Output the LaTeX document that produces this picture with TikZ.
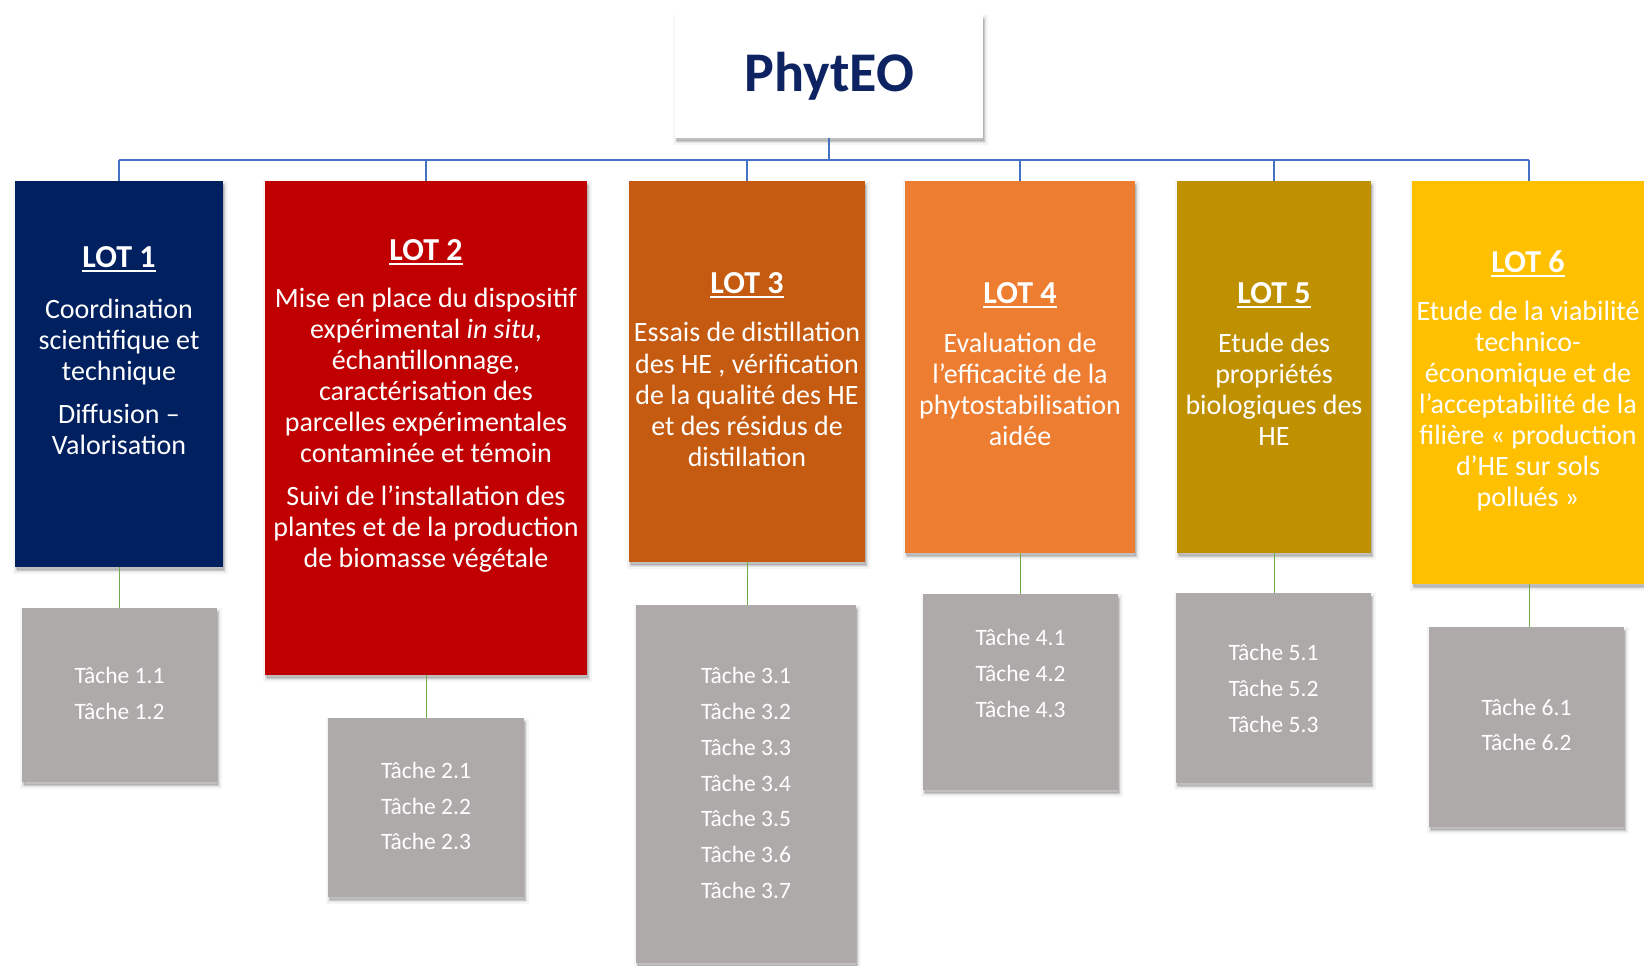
\documentclass[tikz,border=0pt]{standalone}
\usepackage{fontspec}
\setmainfont{Carlito}
\usetikzlibrary{shadows}
\definecolor{titleblue}{HTML}{0E2361}
\definecolor{lotA}{HTML}{002060}
\definecolor{lotB}{HTML}{C00000}
\definecolor{lotC}{HTML}{C55A11}
\definecolor{lotD}{HTML}{ED7D31}
\definecolor{lotE}{HTML}{BF9000}
\definecolor{lotF}{HTML}{FFC000}
\definecolor{taskgray}{HTML}{AEAAAA}
\definecolor{busblue}{HTML}{4472C4}
\definecolor{leafgreen}{HTML}{70AD47}
\newcommand{\lotul}[1]{\setbox0\hbox{#1}\rlap{\rule[-4.5pt]{\wd0}{2.2pt}}\box0}
\tikzset{
  boxshadow/.style={
    general shadow={fill=black, draw=black, line width=7pt, opacity=0.04, shadow xshift=1.5pt, shadow yshift=-3.5pt},
    general shadow={fill=black, draw=black, line width=3.5pt, opacity=0.07, shadow xshift=1.5pt, shadow yshift=-3.5pt},
    general shadow={fill=black, opacity=0.12, shadow xshift=1pt, shadow yshift=-3pt}},
  lotbox/.style={rectangle, inner sep=0, anchor=north west, boxshadow},
  taskbox/.style={rectangle, inner sep=0, anchor=north west, fill=taskgray, boxshadow},
  headtxt/.style={inner sep=0, text=white, font=\fontsize{32}{36}\selectfont\bfseries},
  bodytxt/.style={inner sep=0, text=white, align=center, font=\fontsize{28}{31.1}\selectfont},
  tasktxt/.style={inner sep=0, text=white, align=center, font=\fontsize{23.5}{35.7}\selectfont},
  busline/.style={draw=busblue, line width=1.6pt},
  leafline/.style={draw=leafgreen, line width=1.4pt},
}
\begin{document}
\begin{tikzpicture}[x=1pt,y=-1pt]
\useasboundingbox (0,0) rectangle (1644,966);
% root
\node[lotbox, fill=white, minimum width=308pt, minimum height=123pt] (phyteo) at (675,15) {};
\node[inner sep=0, text=titleblue, font=\fontsize{56}{60}\selectfont\bfseries] (phyteot) at (phyteo.center) {PhytEO};
% lots
\node[lotbox, fill=lotA, minimum width=208pt, minimum height=386pt] (lot1) at (15,181) {};
\node[lotbox, fill=lotB, minimum width=322pt, minimum height=494pt] (lot2) at (265,181) {};
\node[lotbox, fill=lotC, minimum width=236pt, minimum height=381pt] (lot3) at (629,181) {};
\node[lotbox, fill=lotD, minimum width=230pt, minimum height=372pt] (lot4) at (905,181) {};
\node[lotbox, fill=lotE, minimum width=194pt, minimum height=372pt] (lot5) at (1177,181) {};
\node[lotbox, fill=lotF, minimum width=234pt, minimum height=403pt] (lot6) at (1412,181) {};
% lot texts
\node[headtxt] (h1) at (119,259) {\lotul{LOT 1}};
\node[bodytxt] (b1) at (119,376.5) {Coordination\\scientifique et\\technique\\[11.7pt]Diffusion –\\Valorisation};
\node[headtxt] (h2) at (426,252) {\lotul{LOT 2}};
\node[bodytxt] (b2) at (426,430) {Mise en place du dispositif\\expérimental \textit{in situ},\\échantillonnage,\\caractérisation des\\parcelles expérimentales\\contaminée et témoin\\[11.7pt]Suivi de l’installation des\\plantes et de la production\\de biomasse végétale};
\node[headtxt] (h3) at (747,285) {\lotul{LOT 3}};
\node[bodytxt] (b3) at (747,394.5) {Essais de distillation\\des HE , vérification\\de la qualité des HE\\et des résidus de\\distillation};
\node[headtxt] (h4) at (1020,295) {\lotul{LOT 4}};
\node[bodytxt] (b4) at (1020,389.5) {Evaluation de\\l’efficacité de la\\phytostabilisation\\aidée};
\node[headtxt] (h5) at (1274,295) {\lotul{LOT 5}};
\node[bodytxt] (b5) at (1274,389.5) {Etude des\\propriétés\\biologiques des\\HE};
\node[headtxt] (h6) at (1528,264) {\lotul{LOT 6}};
\node[bodytxt] (b6) at (1528,406) {Etude de la viabilité\\technico-\\économique et de\\l’acceptabilité de la\\filière « production\\d’HE sur sols\\pollués »};
% tasks
\node[taskbox, minimum width=195pt, minimum height=174pt] (t1) at (22,608) {};
\node[taskbox, minimum width=196pt, minimum height=179pt] (t2) at (328,718) {};
\node[taskbox, minimum width=220pt, minimum height=358pt] (t3) at (636,605) {};
\node[taskbox, minimum width=195pt, minimum height=196pt] (t4) at (923,594) {};
\node[taskbox, minimum width=195pt, minimum height=190pt] (t5) at (1176,593) {};
\node[taskbox, minimum width=195pt, minimum height=200pt] (t6) at (1429,627) {};
\node[tasktxt] (k1) at (119.5,693.5) {Tâche 1.1\\Tâche 1.2};
\node[tasktxt] (k2) at (426,806) {Tâche 2.1\\Tâche 2.2\\Tâche 2.3};
\node[tasktxt] (k3) at (746,783) {Tâche 3.1\\Tâche 3.2\\Tâche 3.3\\Tâche 3.4\\Tâche 3.5\\Tâche 3.6\\Tâche 3.7};
\node[tasktxt] (k4) at (1020.5,673.5) {Tâche 4.1\\Tâche 4.2\\Tâche 4.3};
\node[tasktxt] (k5) at (1273.5,688.5) {Tâche 5.1\\Tâche 5.2\\Tâche 5.3};
\node[tasktxt] (k6) at (1526.5,725) {Tâche 6.1\\Tâche 6.2};
% connectors
\coordinate (busy) at (0,160);
\draw[busline] (phyteo.south) -- (phyteo.south |- busy);
\draw[busline] (lot1.north |- busy) -- (lot6.north |- busy);
\foreach \i in {1,...,6} {
  \draw[busline] (lot\i.north |- busy) -- (lot\i.north);
  \draw[leafline] (lot\i.south) -- (lot\i.south |- t\i.north);
}
\end{tikzpicture}
\end{document}
